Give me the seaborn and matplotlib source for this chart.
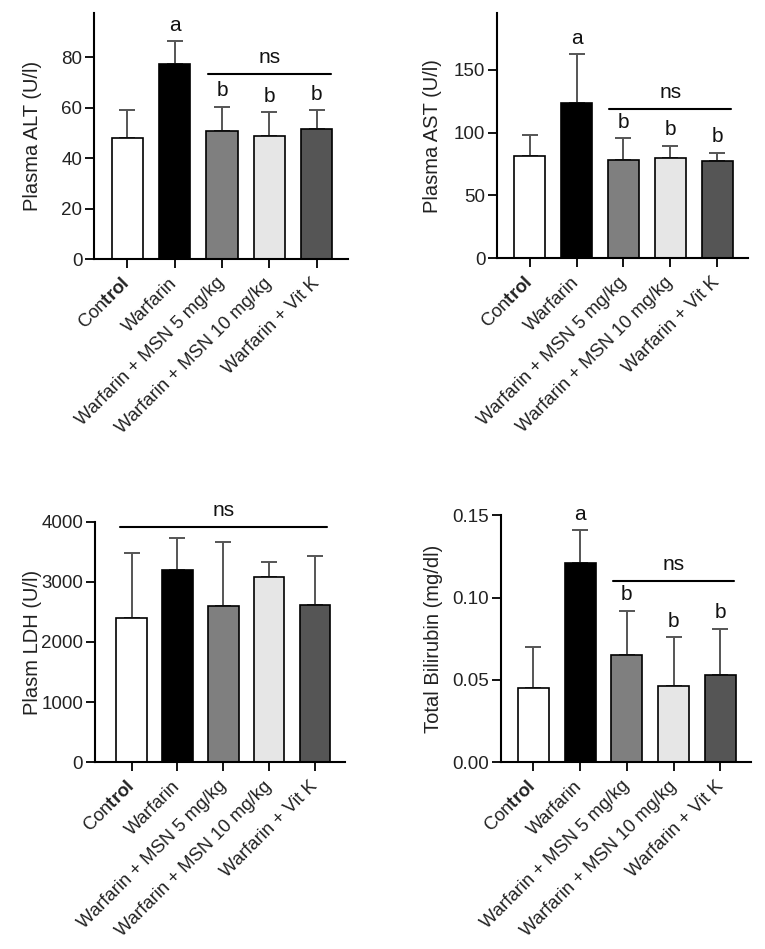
import numpy as np
import pandas as pd
import matplotlib
matplotlib.use("Agg")
import matplotlib.pyplot as plt
import seaborn as sns

groups = ["Control", "Warfarin", "Warfarin + MSN 5 mg/kg",
          "Warfarin + MSN 10 mg/kg", "Warfarin + Vit K"]
tick_labels = ["Con$\\mathbf{trol}$", "Warfarin", "Warfarin + MSN 5 mg/kg",
               "Warfarin + MSN 10 mg/kg", "Warfarin + Vit K"]

alt_mean = [48, 77.5, 51, 49, 51.5]
alt_sd = [11, 9, 9.5, 9.3, 7.5]
ast_mean = [81, 123.5, 78, 80, 77]
ast_sd = [17, 39, 17.5, 9.5, 7]
ldh_mean = [2400, 3200, 2600, 3090, 2620]
ldh_sd = [1080, 530, 1065, 240, 815]
bil_mean = [0.045, 0.121, 0.065, 0.046, 0.053]
bil_sd = [0.025, 0.020, 0.027, 0.030, 0.028]

alt_letters = ["", "a", "b", "b", "b"]
ast_letters = ["", "a", "b", "b", "b"]
ldh_letters = ["", "", "", "", ""]
bil_letters = ["", "a", "b", "b", "b"]

alt_ns = (2, 4, 73.3)
ast_ns = (2, 4, 118.5)
ldh_ns = (0, 4, 3920)
bil_ns = (2, 4, 0.110)

sns.set_theme(style="ticks")
plt.rcParams["font.family"] = ["Liberation Sans", "DejaVu Sans"]
plt.rcParams["mathtext.fontset"] = "custom"
plt.rcParams["mathtext.rm"] = "Liberation Sans"
plt.rcParams["mathtext.bf"] = "Liberation Sans:bold"

colors = ["#ffffff", "#000000", "#7f7f7f", "#e6e6e6", "#555555"]

fig = plt.figure(figsize=(7.65, 9.49), dpi=100)

panels = [
    dict(rect=[0.123, 0.727, 0.332, 0.259], mean=alt_mean, sd=alt_sd, letters=alt_letters,
         ns=alt_ns, ylim=(0, 97.5), yticks=[0, 20, 40, 60, 80], fmt="{:g}",
         ylabel="Plasma ALT (U/l)", xlim=(-0.7, 4.66), lab_x=-0.205, ns_off=0.3),
    dict(rect=[0.650, 0.728, 0.328, 0.258], mean=ast_mean, sd=ast_sd, letters=ast_letters,
         ns=ast_ns, ylim=(0, 195), yticks=[0, 50, 100, 150], fmt="{:g}",
         ylabel="Plasma AST (U/l)", xlim=(-0.69, 4.66), lab_x=-0.219, ns_off=0.3),
    dict(rect=[0.124, 0.197, 0.327, 0.253], mean=ldh_mean, sd=ldh_sd, letters=ldh_letters,
         ns=ldh_ns, ylim=(0, 4000), yticks=[0, 1000, 2000, 3000, 4000], fmt="{:g}",
         ylabel="Plasm LDH (U/l)", xlim=(-0.8, 4.65), lab_x=-0.212, ns_off=0.25),
    dict(rect=[0.655, 0.197, 0.327, 0.260], mean=bil_mean, sd=bil_sd, letters=bil_letters,
         ns=bil_ns, ylim=(0, 0.15), yticks=[0, 0.05, 0.10, 0.15], fmt="{:.2f}",
         ylabel="Total Bilirubin (mg/dl)", xlim=(-0.69, 4.66), lab_x=-0.232, ns_off=0.3),
]

for p in panels:
    ax = fig.add_axes(p["rect"])
    df = pd.DataFrame({"group": groups, "value": p["mean"]})
    sns.barplot(data=df, x="group", y="value", hue="group", palette=colors,
                order=groups, hue_order=groups, dodge=False, legend=False,
                width=0.66, edgecolor="black", linewidth=1.2, errorbar=None,
                ax=ax, zorder=2)
    x = np.arange(len(groups))
    ax.errorbar(x, p["mean"], yerr=[np.zeros(len(x)), p["sd"]], fmt="none",
                ecolor="#555555", elinewidth=1.4, capsize=6, capthick=1.4, zorder=1)
    tops = np.array(p["mean"]) + np.array(p["sd"])
    for i, lt in enumerate(p["letters"]):
        if lt:
            ax.annotate(lt, (x[i], tops[i]), xytext=(0, 7.5), textcoords="offset points",
                        ha="center", va="baseline", fontsize=15, color="#111111",
                        annotation_clip=False)
    s, e, yv = p["ns"]
    ax.plot([s - p["ns_off"], e + p["ns_off"]], [yv, yv], color="black", lw=1.5,
            clip_on=False, zorder=3)
    ax.annotate("ns", ((s + e) / 2, yv), xytext=(0, 8), textcoords="offset points",
                ha="center", va="baseline", fontsize=15, color="#111111",
                annotation_clip=False)
    ax.set_xlim(*p["xlim"])
    ax.set_ylim(*p["ylim"])
    ax.set_yticks(p["yticks"])
    ax.set_yticklabels([p["fmt"].format(v) for v in p["yticks"]], fontsize=13.5, color="#222222")
    ax.set_xticks(x)
    ax.set_xticklabels(tick_labels, rotation=45, ha="right", va="center",
                       rotation_mode="anchor", fontsize=13.3, color="#222222")
    ax.set_xlabel("")
    ax.set_ylabel(p["ylabel"], fontsize=14.5, color="#222222")
    ax.yaxis.set_label_coords(p["lab_x"], 0.5)
    for side in ["top", "right"]:
        ax.spines[side].set_visible(False)
    for side in ["left", "bottom"]:
        ax.spines[side].set_linewidth(1.5)
        ax.spines[side].set_color("black")
    ax.tick_params(axis="both", direction="out", length=6.5, width=1.3, color="black")
    ax.tick_params(axis="x", pad=9)
    ax.tick_params(axis="y", pad=2)

fig.savefig("out.png", dpi=100, facecolor="white")
